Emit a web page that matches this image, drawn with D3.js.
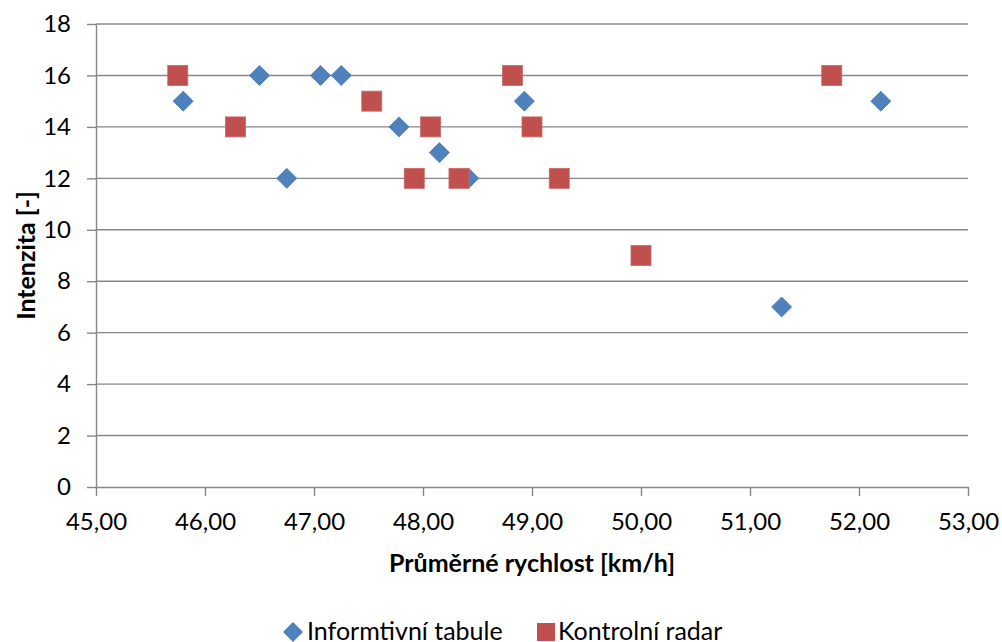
<!DOCTYPE html>
<html>
<head>
<meta charset="utf-8">
<script src="https://cdn.jsdelivr.net/npm/d3@7"></script>
<style>
  body { margin: 0; background: #fff; }
  svg text { font-family: Lato, "Open Sans", sans-serif; fill: #000; }
  .grid line { stroke: #878787; stroke-width: 1.4; }
  .axis path, .axis line { stroke: #878787; stroke-width: 1.4; }
</style>
</head>
<body>
<div id="chart"></div>
<script>
// Informtivní tabule
const tabuleX = [45.80, 46.50, 46.75, 47.06, 47.25, 47.78, 48.15, 48.42, 48.93, 51.29, 52.20];
const tabuleY = [15, 16, 12, 16, 16, 14, 13, 12, 15, 7, 15];
// Kontrolní radar
const radarX = [45.75, 46.28, 47.53, 47.92, 48.07, 48.33, 48.82, 49.00, 49.25, 50.00, 51.75];
const radarY = [16, 14, 15, 12, 14, 12, 16, 14, 12, 9, 16];

const seriesNames = ["Informtivní tabule", "Kontrolní radar"];
const seriesColors = ["#4F81BD", "#C0504D"];
const xTicks = [45, 46, 47, 48, 49, 50, 51, 52, 53];
const yTicks = [0, 2, 4, 6, 8, 10, 12, 14, 16, 18];

const width = 1002;
const height = 642;
const margin = { left: 96, right: 34, top: 24, bottom: 155 };

const svg = d3.select("#chart")
    .append("svg")
    .attr("width", width)
    .attr("height", height);

const x = d3.scaleLinear().domain([45, 53]).range([margin.left, width - margin.right]);
const y = d3.scaleLinear().domain([0, 18]).range([height - margin.bottom, margin.top]);

const fmt = d => d.toFixed(2).replace(".", ",");

// horizontal gridlines
svg.append("g")
    .attr("class", "grid")
    .selectAll("line")
    .data(yTicks.slice(1))
    .enter().append("line")
    .attr("x1", x(45))
    .attr("x2", x(53))
    .attr("y1", d => y(d))
    .attr("y2", d => y(d));

const xAxis = svg.append("g")
    .attr("class", "axis")
    .attr("transform", `translate(0,${y(0)})`)
    .call(d3.axisBottom(x).tickValues(xTicks).tickFormat(fmt).tickSize(9).tickSizeOuter(0));
xAxis.selectAll("text").attr("y", 43).attr("dy", 0).style("font-size", "24px");

const yAxis = svg.append("g")
    .attr("class", "axis")
    .attr("transform", `translate(${x(45)},0)`)
    .call(d3.axisLeft(y).tickValues(yTicks).tickSize(9).tickSizeOuter(0));
yAxis.selectAll("text").attr("x", -25).style("font-size", "24px");

// axis titles
svg.append("text")
    .attr("x", (x(45) + x(53)) / 2)
    .attr("y", 572)
    .attr("text-anchor", "middle")
    .style("font-size", "25px")
    .style("font-weight", "bold")
    .text("Průměrné rychlost [km/h]");

svg.append("text")
    .attr("transform", `translate(35,${(y(0) + y(18)) / 2}) rotate(-90)`)
    .attr("text-anchor", "middle")
    .style("font-size", "25px")
    .style("font-weight", "bold")
    .text("Intenzita [-]");

// points
const tabule = tabuleX.map((v, i) => ({ x: v, y: tabuleY[i] }));
const radar = radarX.map((v, i) => ({ x: v, y: radarY[i] }));

const diamond = d3.symbol().type(d3.symbolSquare).size(200);

svg.append("g")
    .selectAll("path")
    .data(tabule)
    .enter().append("path")
    .attr("d", diamond)
    .attr("transform", d => `translate(${x(d.x)},${y(d.y)}) rotate(45)`)
    .attr("fill", seriesColors[0])
    .attr("stroke", "#4a7ab3")
    .attr("stroke-width", 0.8);

svg.append("g")
    .selectAll("rect")
    .data(radar)
    .enter().append("rect")
    .attr("x", d => x(d.x) - 10)
    .attr("y", d => y(d.y) - 10)
    .attr("width", 20)
    .attr("height", 20)
    .attr("fill", seriesColors[1])
    .attr("stroke", "#c86864")
    .attr("stroke-width", 0.8);

// legend
const legend = svg.append("g").attr("transform", "translate(0,632)");
legend.append("path")
    .attr("d", d3.symbol().type(d3.symbolSquare).size(200))
    .attr("transform", "translate(293,0) rotate(45)")
    .attr("fill", seriesColors[0]);
legend.append("text")
    .attr("x", 307)
    .attr("y", 8)
    .style("font-size", "25px")
    .text(seriesNames[0]);
legend.append("rect")
    .attr("x", 537)
    .attr("y", -9)
    .attr("width", 18)
    .attr("height", 18)
    .attr("fill", seriesColors[1]);
legend.append("text")
    .attr("x", 558)
    .attr("y", 8)
    .style("font-size", "25px")
    .text(seriesNames[1]);
</script>
</body>
</html>
